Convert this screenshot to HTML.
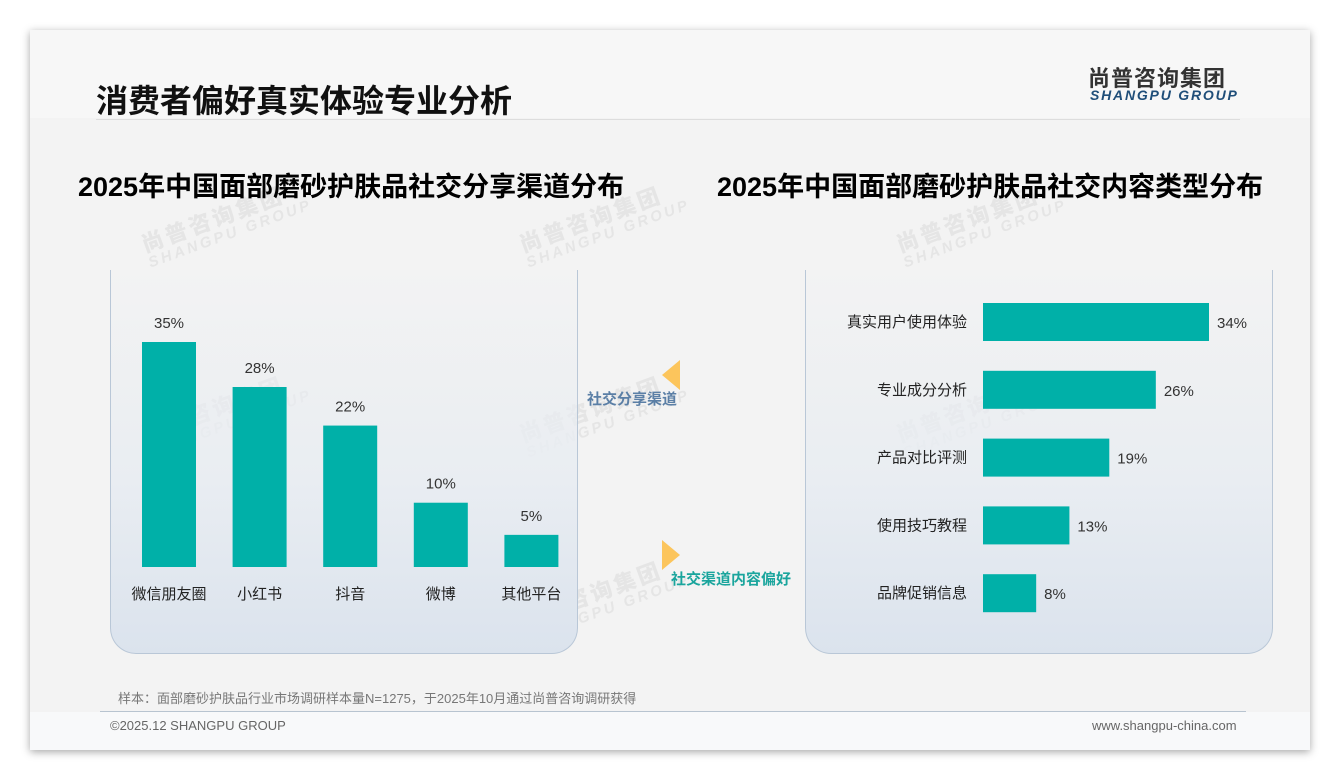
<!DOCTYPE html>
<html><head><meta charset="utf-8">
<style>
body{margin:0;width:1340px;height:780px;background:#fff;position:relative;overflow:hidden;font-family:"Liberation Sans","Noto Sans CJK SC",sans-serif;}
.slide{position:absolute;left:30px;top:30px;width:1280px;height:720px;background:#f3f3f3;box-shadow:0 2px 8px rgba(0,0,0,.35);}
.abs{position:absolute;}
.panel{position:absolute;top:270px;width:468px;height:384px;border:1px solid #b9c7d7;border-top:none;border-radius:0 0 26px 26px;background:linear-gradient(to bottom,rgba(243,243,243,0) 0%,#e9edf2 55%,#dbe3ed 100%);box-sizing:border-box;}
.wm{position:absolute;color:rgba(180,180,180,.22);font-weight:bold;transform:rotate(-20deg);line-height:1;white-space:nowrap;}
.wm b{display:block;font-size:22px;letter-spacing:3px}
.wm i{display:block;font-size:15px;font-style:italic;letter-spacing:3px}
</style></head><body>
<div class="slide">
  <div class="abs" style="left:0;top:0;width:1280px;height:88px;background:#f7f7f7"></div>
  <div class="abs" style="left:0;top:682px;width:1280px;height:38px;background:#f8f9fa"></div>
</div>
<div class="abs" style="left:96px;top:76px;font-size:32px;font-weight:bold;color:#111">消费者偏好真实体验专业分析</div>
<div class="abs" style="left:96px;top:119px;width:1144px;height:1px;background:#ddd"></div>
<div class="abs" style="left:1088px;top:61px;font-size:22px;font-weight:bold;color:#333;letter-spacing:1px">尚普咨询集团</div>
<div class="abs" style="left:1090px;top:87px;font-size:14px;font-weight:bold;font-style:italic;color:#1f4e79;letter-spacing:1.8px">SHANGPU GROUP</div>

<div class="wm" style="left:140px;top:205px"><b>尚普咨询集团</b><i>SHANGPU GROUP</i></div>
<div class="wm" style="left:518px;top:205px"><b>尚普咨询集团</b><i>SHANGPU GROUP</i></div>
<div class="wm" style="left:895px;top:205px"><b>尚普咨询集团</b><i>SHANGPU GROUP</i></div>
<div class="wm" style="left:140px;top:395px"><b>尚普咨询集团</b><i>SHANGPU GROUP</i></div>
<div class="wm" style="left:518px;top:395px"><b>尚普咨询集团</b><i>SHANGPU GROUP</i></div>
<div class="wm" style="left:895px;top:395px"><b>尚普咨询集团</b><i>SHANGPU GROUP</i></div>
<div class="wm" style="left:140px;top:580px"><b>尚普咨询集团</b><i>SHANGPU GROUP</i></div>
<div class="wm" style="left:518px;top:580px"><b>尚普咨询集团</b><i>SHANGPU GROUP</i></div>
<div class="wm" style="left:895px;top:580px"><b>尚普咨询集团</b><i>SHANGPU GROUP</i></div>

<div class="abs" style="left:78px;top:165px;font-size:27px;font-weight:bold;color:#000">2025年中国面部磨砂护肤品社交分享渠道分布</div>
<div class="abs" style="left:717px;top:165px;font-size:27px;font-weight:bold;color:#000">2025年中国面部磨砂护肤品社交内容类型分布</div>

<div class="panel" style="left:110px"></div>
<div class="panel" style="left:805px"></div>

<svg class="abs" style="left:0;top:0" width="1340" height="780" id="chart">
  <polygon points="680,360 680,390 662,375" fill="#fcc55c"/>
  <polygon points="662,540 662,570 680,555" fill="#fcc55c"/>
  <text x="587" y="404" font-size="15" font-weight="bold" fill="#5b7fa6">社交分享渠道</text>
  <text x="671" y="584" font-size="15" font-weight="bold" fill="#1aa59d">社交渠道内容偏好</text>
</svg>

<div class="abs" style="left:118px;top:688px;font-size:13px;color:#777">样本：面部磨砂护肤品行业市场调研样本量N=1275，于2025年10月通过尚普咨询调研获得</div>
<div class="abs" style="left:100px;top:711px;width:1146px;height:1px;background:#b8c4d0"></div>
<div class="abs" style="left:110px;top:718px;font-size:13px;color:#666">©2025.12 SHANGPU GROUP</div>
<div class="abs" style="left:1092px;top:718px;font-size:13px;color:#666">www.shangpu-china.com</div>

<script>
const leftCategories=["微信朋友圈","小红书","抖音","微博","其他平台"];
const leftValues=[35,28,22,10,5];
const rightCategories=["真实用户使用体验","专业成分分析","产品对比评测","使用技巧教程","品牌促销信息"];
const rightValues=[34,26,19,13,8];
const NS="http://www.w3.org/2000/svg";
const svg=document.getElementById('chart');
const teal="#00b0a8";
function mk(tag,attrs,txt){const e=document.createElementNS(NS,tag);for(const k in attrs)e.setAttribute(k,attrs[k]);if(txt!==undefined)e.textContent=txt;svg.appendChild(e);return e;}
const baseY=567, pxPerL=225/35, x0=169, step=90.6, bw=54;
const yL=v=>baseY-v*pxPerL;
leftValues.forEach((v,i)=>{
  const cx=x0+i*step;
  const r=mk('rect',{x:cx-bw/2,y:yL(v),width:bw,height:baseY-yL(v),fill:teal});
  
  
  const t=mk('text',{x:cx,y:yL(v)-14,'font-size':15,fill:'#333','text-anchor':'middle'},v+'%');
  
  
  const c=mk('text',{x:cx,y:599,'font-size':15,fill:'#222','text-anchor':'middle'},leftCategories[i]);
  
  
});
const startX=983, pxPerR=226/34, y0=322, stepR=67.8, bh=38;
const xR=v=>startX+v*pxPerR;
rightValues.forEach((v,i)=>{
  const cy=y0+i*stepR;
  const r=mk('rect',{x:startX,y:cy-bh/2,width:xR(v)-startX,height:bh,fill:teal});
  
  
  const t=mk('text',{x:xR(v)+8,y:cy+6,'font-size':15,fill:'#333'},v+'%');
  
  
  const c=mk('text',{x:967,y:cy+5,'font-size':15,fill:'#222','text-anchor':'end'},rightCategories[i]);
  
  
});
</script>
</body></html>
